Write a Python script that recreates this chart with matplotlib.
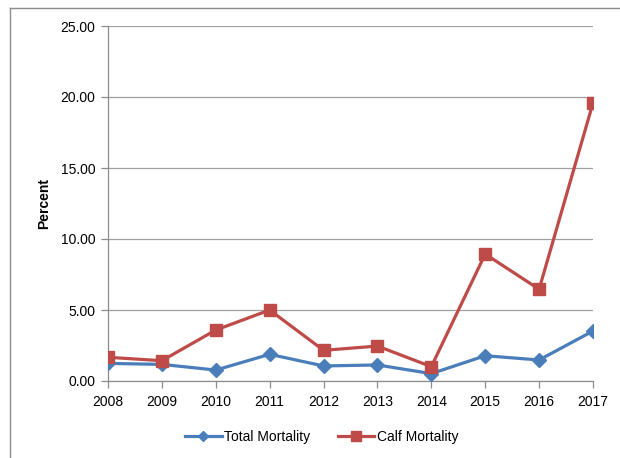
import matplotlib
matplotlib.use("Agg")
import matplotlib.pyplot as plt
from matplotlib.lines import Line2D

years = [2008, 2009, 2010, 2011, 2012, 2013, 2014, 2015, 2016, 2017]
total_mortality = [1.24, 1.17, 0.77, 1.88, 1.06, 1.13, 0.52, 1.78, 1.48, 3.52]
calf_mortality = [1.67, 1.43, 3.59, 5.00, 2.16, 2.46, 1.01, 8.94, 6.46, 19.58]
y_ticks = [0, 5, 10, 15, 20, 25]

plt.rcParams['font.family'] = ['Liberation Sans', 'DejaVu Sans']

fig = plt.figure(figsize=(6.2, 4.58), dpi=100)
W, H = 620, 458
ax = fig.add_axes([108 / W, 1 - 381 / H, (593 - 108) / W, (381 - 26) / H])

# chart frame: left and top edges
frame_kw = dict(transform=fig.transFigure, color='#8c8c8c', linewidth=1.0)
fig.lines.append(Line2D([9.5 / W, 9.5 / W], [0, 1 - 8 / H], **frame_kw))
fig.lines.append(Line2D([9.5 / W, 1], [1 - 8 / H, 1 - 8 / H], **frame_kw))

blue = '#4A7EBB'
red = '#BE4B48'
ax.plot(years, total_mortality, color=blue, linewidth=2.3, marker='D',
        markersize=7, label='Total Mortality', zorder=3)
ax.plot(years, calf_mortality, color=red, linewidth=2.3, marker='s',
        markersize=9, label='Calf Mortality', zorder=3)

ax.set_xlim(2008, 2017)
ax.set_ylim(0, 25)
ax.set_xticks(years)
ax.set_xticklabels([str(y) for y in years], fontsize=10)
ax.set_yticks(y_ticks)
ax.set_yticklabels([f"{v:.2f}" for v in y_ticks], fontsize=10)
ax.yaxis.grid(True, color='#a0a0a0', linewidth=0.9)
ax.set_axisbelow(True)
for s in ['top', 'right']:
    ax.spines[s].set_visible(False)
for s in ['left', 'bottom']:
    ax.spines[s].set_color('#8c8c8c')
    ax.spines[s].set_linewidth(0.9)
ax.tick_params(axis='both', color='#8c8c8c', length=5, width=0.9)
ax.tick_params(axis='x', pad=5)
ax.tick_params(axis='y', pad=4)
ax.set_ylabel('Percent', fontsize=10, fontweight='bold')
ax.yaxis.set_label_coords(-57 / (593 - 108), 0.5)

fig.legend(loc='center', bbox_to_anchor=(322 / W, 1 - 437 / H), ncol=2,
           frameon=False, fontsize=10, handlelength=2.6, columnspacing=2.0,
           handletextpad=0.2, markerscale=0.8)

fig.savefig('out.png', dpi=100, facecolor='white')
